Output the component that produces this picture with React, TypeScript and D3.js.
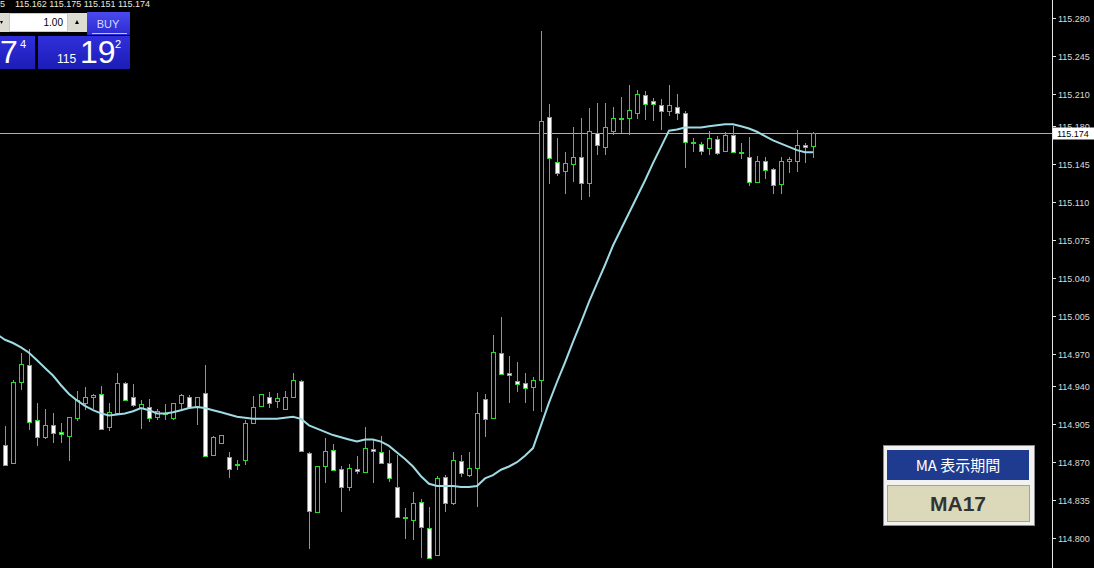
import * as d3 from 'd3'

// OHLC of the 102 visible bars (oldest first)
const opens = [
  114.886, 114.869, 114.944, 114.960, 114.909, 114.893, 114.904, 114.898, 114.894, 114.911,
  114.925, 114.930, 114.933, 114.902, 114.915, 114.943, 114.930, 114.920, 114.921, 114.912,
  114.914, 114.911, 114.925, 114.930, 114.922, 114.934, 114.877, 114.888, 114.875, 114.868,
  114.872, 114.906, 114.922, 114.930, 114.926, 114.919, 114.930, 114.945, 114.878, 114.824,
  114.866, 114.881, 114.864, 114.847, 114.864, 114.861, 114.882, 114.879, 114.869, 114.847,
  114.819, 114.817, 114.833, 114.809, 114.784, 114.856, 114.832, 114.871, 114.858, 114.865,
  114.928, 114.911, 114.971, 114.952, 114.945, 114.943, 114.939, 114.946, 115.189, 115.147,
  115.139, 115.145, 115.152, 115.128, 115.174, 115.161, 115.176, 115.188, 115.188, 115.192,
  115.209, 115.203, 115.200, 115.194, 115.198, 115.192, 115.166, 115.164, 115.160, 115.168,
  115.157, 115.172, 115.156, 115.152, 115.129, 115.148, 115.141, 115.127, 115.148, 115.148,
  115.163, 115.162,
]
const highs = [
  114.903, 114.946, 114.971, 114.974, 114.925, 114.919, 114.915, 114.906, 114.912, 114.936,
  114.939, 114.933, 114.940, 114.925, 114.952, 114.944, 114.942, 114.927, 114.928, 114.919,
  114.924, 114.925, 114.933, 114.932, 114.930, 114.960, 114.894, 114.895, 114.879, 114.872,
  114.909, 114.931, 114.933, 114.935, 114.934, 114.936, 114.952, 114.946, 114.879, 114.866,
  114.892, 114.887, 114.866, 114.868, 114.876, 114.902, 114.891, 114.894, 114.881, 114.877,
  114.828, 114.842, 114.836, 114.829, 114.857, 114.858, 114.879, 114.877, 114.879, 114.935,
  114.933, 114.987, 115.004, 114.968, 114.962, 114.952, 114.949, 115.268, 115.201, 115.169,
  115.156, 115.179, 115.188, 115.197, 115.202, 115.202, 115.198, 115.207, 115.218, 115.214,
  115.213, 115.206, 115.205, 115.218, 115.210, 115.194, 115.169, 115.166, 115.176, 115.171,
  115.175, 115.180, 115.165, 115.170, 115.153, 115.152, 115.142, 115.152, 115.152, 115.177,
  115.165, 115.175,
]
const lows = [
  114.867, 114.869, 114.937, 114.900, 114.885, 114.891, 114.888, 114.888, 114.871, 114.908,
  114.918, 114.919, 114.901, 114.899, 114.915, 114.926, 114.921, 114.901, 114.907, 114.909,
  114.909, 114.909, 114.918, 114.920, 114.904, 114.876, 114.877, 114.887, 114.855, 114.863,
  114.867, 114.906, 114.921, 114.920, 114.920, 114.919, 114.930, 114.879, 114.790, 114.823,
  114.851, 114.863, 114.824, 114.843, 114.859, 114.861, 114.851, 114.868, 114.852, 114.818,
  114.799, 114.798, 114.782, 114.782, 114.784, 114.824, 114.830, 114.856, 114.856, 114.829,
  114.893, 114.911, 114.951, 114.925, 114.935, 114.925, 114.917, 114.916, 115.127, 115.134,
  115.118, 115.129, 115.112, 115.115, 115.154, 115.154, 115.172, 115.174, 115.172, 115.187,
  115.186, 115.185, 115.177, 115.190, 115.186, 115.142, 115.156, 115.154, 115.154, 115.154,
  115.157, 115.155, 115.150, 115.125, 115.129, 115.131, 115.118, 115.118, 115.137, 115.138,
  115.146, 115.151,
]
const closes = [
  114.867, 114.944, 114.961, 114.907, 114.893, 114.904, 114.897, 114.896, 114.912, 114.927,
  114.930, 114.932, 114.901, 114.916, 114.943, 114.927, 114.923, 114.924, 114.911, 114.917,
  114.915, 114.925, 114.932, 114.921, 114.930, 114.876, 114.893, 114.895, 114.864, 114.867,
  114.906, 114.921, 114.933, 114.925, 114.929, 114.930, 114.946, 114.880, 114.825, 114.866,
  114.880, 114.863, 114.847, 114.865, 114.862, 114.883, 114.880, 114.869, 114.855, 114.819,
  114.818, 114.832, 114.810, 114.782, 114.855, 114.832, 114.872, 114.860, 114.865, 114.915,
  114.910, 114.972, 114.951, 114.950, 114.942, 114.938, 114.946, 115.185, 115.151, 115.137,
  115.146, 115.152, 115.128, 115.176, 115.163, 115.179, 115.188, 115.187, 115.195, 115.210,
  115.201, 115.201, 115.194, 115.200, 115.192, 115.166, 115.165, 115.157, 115.169, 115.155,
  115.172, 115.156, 115.155, 115.129, 115.148, 115.140, 115.126, 115.148, 115.150, 115.163,
  115.161, 115.174,
]
// MA17, first value belongs to the bar just left of the screen
const maValues = [
  114.988, 114.983, 114.980, 114.976, 114.971, 114.964, 114.957, 114.950, 114.941, 114.933,
  114.927, 114.922, 114.918, 114.915, 114.913, 114.914, 114.915, 114.917, 114.920, 114.918,
  114.915, 114.915, 114.916, 114.918, 114.920, 114.921, 114.920, 114.918, 114.916, 114.914,
  114.912, 114.911, 114.910, 114.910, 114.910, 114.910, 114.911, 114.912, 114.910, 114.904,
  114.901, 114.898, 114.895, 114.893, 114.891, 114.889, 114.891, 114.891, 114.889, 114.885,
  114.879, 114.873, 114.866, 114.857, 114.850, 114.848, 114.848, 114.848, 114.847, 114.847,
  114.848, 114.855, 114.858, 114.863, 114.866, 114.870, 114.876, 114.883, 114.904, 114.925,
  114.944, 114.962, 114.981, 114.999, 115.018, 115.035, 115.052, 115.070, 115.085, 115.100,
  115.115, 115.130, 115.146, 115.161, 115.176, 115.177, 115.179, 115.179, 115.179, 115.180,
  115.181, 115.182, 115.182, 115.180, 115.178, 115.175, 115.171, 115.167, 115.164, 115.161,
  115.158, 115.156, 115.156,
]
const tickLabels = [
  '115.280', '115.245', '115.210', '115.180', '115.145', '115.110', '115.075', '115.040',
  '115.005', '114.970', '114.940', '114.905', '114.870', '114.835', '114.800',
]
const quote = ['115.162', '115.175', '115.151', '115.174']
const currentPrice = 115.174

const W = 1094
const H = 568
const axisX = 1052
const green = '#2bdc2b'

export default function App() {
  const y = d3.scaleLinear().domain([114.8, 115.28]).range([538, 18])
  const x = d3.scaleLinear().domain([0, opens.length - 1]).range([5, 813])
  const ma = d3.line<number>()
    .x((_, i) => x(i - 1))
    .y(d => y(d))

  const py = Math.round(y(currentPrice)) + 0.5

  return (
    <div style={{ position: 'fixed', left: 0, top: 0 }}>
      <svg width={W} height={H} style={{ display: 'block', background: '#000' }}
        fontFamily="'Liberation Sans', Arial, sans-serif">
        <defs>
          <clipPath id="plot"><rect x={0} y={0} width={axisX} height={H} /></clipPath>
          <linearGradient id="blue" x1="0" y1="0" x2="0" y2="1">
            <stop offset="0" stopColor="#3030dc" />
            <stop offset="1" stopColor="#1c1cb6" />
          </linearGradient>
          <linearGradient id="buy" x1="0" y1="0" x2="0" y2="1">
            <stop offset="0" stopColor="#4a4aee" />
            <stop offset="1" stopColor="#2a2ad0" />
          </linearGradient>
        </defs>
        <rect width={W} height={H} fill="#000" />

        <g clipPath="url(#plot)">
          <line x1={0} x2={axisX} y1={py} y2={py} stroke="#a9a9c0" strokeWidth={1} />
          <g shapeRendering="crispEdges">
            {opens.map((o, i) => {
              const c = closes[i]
              const cx = Math.round(x(i)) + 0.5
              const top = Math.round(y(Math.max(o, c)))
              const bot = Math.round(y(Math.min(o, c)))
              const bull = c >= o
              return (
                <g key={i}>
                  <line x1={cx} x2={cx} y1={Math.round(y(highs[i]))} y2={Math.round(y(lows[i]))}
                    stroke={green} strokeWidth={1} />
                  <rect x={cx - 2} y={top + 0.5} width={4} height={Math.max(bot - top, 1)}
                    fill={bull ? '#000' : '#fff'} stroke={green} strokeWidth={1} />
                </g>
              )
            })}
          </g>
          <path d={ma(maValues) || ''} fill="none" stroke="#9fdbe4" strokeWidth={2} />
        </g>

        {/* price axis */}
        <line x1={axisX + 0.5} x2={axisX + 0.5} y1={0} y2={H} stroke="#e6e6e6" />
        {tickLabels.map(t => {
          const ty = Math.round(y(+t)) + 0.5
          return (
            <g key={t}>
              <line x1={axisX} x2={axisX + 4} y1={ty} y2={ty} stroke="#e6e6e6" />
              <text x={1058} y={ty} dy="0.35em" fontSize={9} fill="#dadada">{t}</text>
            </g>
          )
        })}
        <rect x={axisX + 1} y={py - 6} width={W - axisX - 1} height={12} fill="#fff" />
        <text x={1057} y={py} dy="0.35em" fontSize={9} fill="#000">{currentPrice.toFixed(3)}</text>

        {/* quote line */}
        <text x={0} y={7} fontSize={9} fill="#e8e8dc">5</text>
        <text x={15} y={7} fontSize={9} fill="#e8e8dc">{quote.join(' ')}</text>

        {/* one-click trading panel */}
        <rect x={0} y={13} width={9} height={19} fill="#dcdcd2" />
        <path d="M0,21 L3,21 L1.5,24 Z" fill="#000" />
        <rect x={9.5} y={13.5} width={58} height={18} fill="#fff" stroke="#c8c8c8" />
        <text x={63} y={26} fontSize={10} fill="#000" textAnchor="end">1.00</text>
        <rect x={68} y={13} width={19} height={19} fill="#dcdcd2" />
        <path d="M75,24 L79,24 L77,20 Z" fill="#000" />
        <rect x={87} y={12} width={43} height={23} fill="url(#buy)" />
        <text x={108} y={28} fontSize={11} fill="#d6dcff" textAnchor="middle">BUY</text>
        <line x1={92} x2={127} y1={33.5} y2={33.5} stroke="#b8c0ff" />
        <rect x={0} y={36} width={35} height={33} fill="url(#blue)" />
        <text x={0} y={63} fontSize={32} fill="#fff">7</text>
        <text x={20} y={48} fontSize={11} fill="#fff">4</text>
        <rect x={38} y={36} width={92} height={33} fill="url(#blue)" />
        <text x={57} y={63} fontSize={12} fill="#fff">115</text>
        <text x={80} y={63} fontSize={32} fill="#fff">19</text>
        <text x={115} y={48} fontSize={11} fill="#fff">2</text>

        {/* MA period panel */}
        <rect x={883.5} y={445.5} width={151} height={80} fill="#f2f2f2" stroke="#8c8c8c" />
        <rect x={887} y={450} width={142} height={30} fill="#1f3b8f" />
        <text x={958} y={471} fontSize={15} fill="#fff" textAnchor="middle"
          fontFamily="'Noto Sans CJK JP', sans-serif">MA 表示期間</text>
        <rect x={887.5} y={485.5} width={142} height={36} fill="#dcd9bb" stroke="#aea66a" />
        <text x={958} y={511} fontSize={21} fontWeight="bold" fill="#333" textAnchor="middle">MA17</text>
      </svg>
    </div>
  )
}
